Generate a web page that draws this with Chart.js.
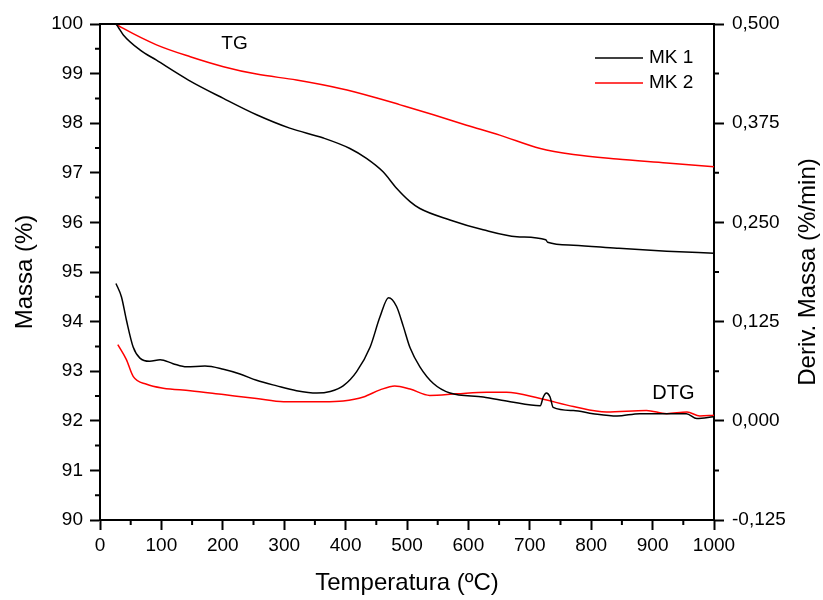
<!DOCTYPE html>
<html>
<head>
<meta charset="utf-8">
<script src="https://cdn.jsdelivr.net/npm/chart.js@4"></script>
<style>
  body { margin: 0; background: #fff; }
</style>
</head>
<body>
<canvas id="tgChart" width="823" height="600"></canvas>
<script>
// TG - massa (%) no eixo esquerdo
const tgTempMk1 = [26, 30, 38, 65, 92, 144, 201, 255, 309, 364, 407, 434, 461, 483, 505, 521, 570, 624, 679, 726, 729, 771, 842, 923, 1000];
const tgMk1     = [100.0, 99.93, 99.78, 99.48, 99.27, 98.87, 98.50, 98.17, 97.90, 97.70, 97.49, 97.29, 97.02, 96.69, 96.42, 96.28, 96.05, 95.85, 95.71, 95.65, 95.60, 95.54, 95.48, 95.42, 95.38];

const tgTempMk2 = [26, 38, 92, 147, 201, 255, 320, 391, 445, 489, 543, 597, 651, 717, 771, 842, 923, 1000];
const tgMk2     = [100.0, 99.91, 99.58, 99.34, 99.14, 98.99, 98.87, 98.70, 98.53, 98.37, 98.17, 97.96, 97.76, 97.49, 97.37, 97.28, 97.20, 97.12];

// DTG - derivada da massa (%/min) no eixo direito
const dtgTempMk1 = [26, 35, 43, 54, 65, 81, 98, 119, 141, 171, 201, 228, 255, 288, 320, 353, 375, 396, 418, 440, 456, 470, 483, 494, 505, 521, 543, 570, 624, 668, 717, 722, 727, 733, 738, 771, 803, 842, 879, 955, 972, 999];
const dtgMk1     = [0.173, 0.156, 0.127, 0.093, 0.079, 0.075, 0.077, 0.072, 0.068, 0.069, 0.065, 0.059, 0.051, 0.044, 0.038, 0.035, 0.037, 0.044, 0.062, 0.093, 0.131, 0.155, 0.144, 0.119, 0.092, 0.068, 0.047, 0.035, 0.030, 0.024, 0.019, 0.030, 0.035, 0.030, 0.017, 0.013, 0.009, 0.006, 0.009, 0.009, 0.003, 0.005];

const dtgTempMk2 = [29, 43, 54, 76, 103, 147, 201, 255, 299, 364, 396, 429, 456, 480, 505, 537, 581, 630, 662, 717, 771, 825, 890, 923, 956, 977, 1000];
const dtgMk2     = [0.096, 0.077, 0.056, 0.046, 0.041, 0.038, 0.033, 0.028, 0.024, 0.024, 0.025, 0.030, 0.039, 0.044, 0.040, 0.032, 0.034, 0.036, 0.036, 0.028, 0.018, 0.011, 0.013, 0.009, 0.011, 0.006, 0.007];

const amostras = ['MK 1', 'MK 2'];
const cores = ['#000000', '#ff0000'];

const FONTE = 'Arial, "Liberation Sans", sans-serif';
Chart.defaults.font.family = FONTE;
Chart.defaults.font.size = 19;
Chart.defaults.color = '#000';

function pontos(xs, ys) {
    return xs.map((x, i) => ({ x: x, y: ys[i] }));
}

function serie(label, xs, ys, cor, eixo) {
    return {
        label: label,
        data: pontos(xs, ys),
        borderColor: cor,
        borderWidth: 1.5,
        pointRadius: 0,
        cubicInterpolationMode: 'monotone',
        fill: false,
        yAxisID: eixo
    };
}

// linhas, ticks menores, legenda e rótulos
const extras = {
    id: 'extras',
    afterDraw(chart) {
        const ctx = chart.ctx;
        const a = chart.chartArea;
        const sx = chart.scales.x, sy = chart.scales.y, sy2 = chart.scales.y2;
        ctx.save();
        ctx.strokeStyle = '#000';
        ctx.lineWidth = 2;
        ctx.beginPath();
        ctx.moveTo(a.left, a.top);
        ctx.lineTo(a.right, a.top);
        for (let v = 50; v < 1000; v += 100) {
            const px = sx.getPixelForValue(v);
            ctx.moveTo(px, a.bottom);
            ctx.lineTo(px, a.bottom + 5);
        }
        for (let v = 90.5; v < 100; v += 1) {
            const py = sy.getPixelForValue(v);
            ctx.moveTo(a.left, py);
            ctx.lineTo(a.left - 5, py);
        }
        for (let v = -0.0625; v < 0.5; v += 0.125) {
            const py = sy2.getPixelForValue(v);
            ctx.moveTo(a.right, py);
            ctx.lineTo(a.right + 5, py);
        }
        ctx.stroke();

        // legenda
        ctx.font = '19px ' + FONTE;
        ctx.textBaseline = 'middle';
        ctx.textAlign = 'left';
        amostras.forEach((nome, i) => {
            const y = 58 + i * 25;
            ctx.strokeStyle = cores[i];
            ctx.lineWidth = 1.5;
            ctx.beginPath();
            ctx.moveTo(595, y);
            ctx.lineTo(643, y);
            ctx.stroke();
            ctx.fillStyle = '#000';
            ctx.fillText(nome, 649, y);
        });

        // rótulos TG e DTG
        ctx.textAlign = 'center';
        ctx.fillText('TG', sx.getPixelForValue(219), sy.getPixelForValue(99.6));
        ctx.font = '20px ' + FONTE;
        ctx.fillText('DTG', sx.getPixelForValue(934), sy2.getPixelForValue(0.035));

        // título do eixo direito
        ctx.font = '24px ' + FONTE;
        ctx.translate(808, (a.top + a.bottom) / 2);
        ctx.rotate(-Math.PI / 2);
        ctx.fillText('Deriv. Massa (%/min)', 0, 0);
        ctx.restore();
    }
};

const gradeEixo = {
    display: true,
    drawOnChartArea: false,
    drawTicks: true,
    tickLength: 10,
    tickColor: '#000',
    tickWidth: 2
};
const bordaEixo = { display: true, color: '#000', width: 2 };

new Chart(document.getElementById('tgChart').getContext('2d'), {
    type: 'line',
    data: {
        datasets: [
            serie('MK 1', tgTempMk1, tgMk1, cores[0], 'y'),
            serie('MK 2', tgTempMk2, tgMk2, cores[1], 'y'),
            serie('MK 1 DTG', dtgTempMk1, dtgMk1, cores[0], 'y2'),
            serie('MK 2 DTG', dtgTempMk2, dtgMk2, cores[1], 'y2')
        ]
    },
    options: {
        responsive: false,
        animation: false,
        layout: { padding: { top: 24, left: 0, right: 0, bottom: 0 } },
        plugins: {
            legend: { display: false },
            tooltip: { enabled: false }
        },
        scales: {
            x: {
                type: 'linear',
                min: 0,
                max: 1000,
                ticks: { stepSize: 100, padding: 4, callback: v => String(v) },
                grid: gradeEixo,
                border: bordaEixo,
                title: {
                    display: true,
                    text: 'Temperatura (ºC)',
                    font: { size: 24, lineHeight: 1 },
                    padding: { top: 0, bottom: 5 }
                },
                afterFit(s) { s.height = 80; }
            },
            y: {
                position: 'left',
                min: 90,
                max: 100,
                ticks: { stepSize: 1, padding: 7 },
                grid: gradeEixo,
                border: bordaEixo,
                title: {
                    display: true,
                    text: 'Massa (%)',
                    font: { size: 24, lineHeight: 1 },
                    padding: { top: 13, bottom: 0 }
                },
                afterFit(s) { s.width = 100; }
            },
            y2: {
                position: 'right',
                min: -0.125,
                max: 0.5,
                ticks: {
                    stepSize: 0.125,
                    padding: 8,
                    callback: v => v.toFixed(3).replace('.', ',')
                },
                grid: gradeEixo,
                border: bordaEixo,
                afterFit(s) { s.width = 109; }
            }
        }
    },
    plugins: [extras]
});
</script>
</body>
</html>
